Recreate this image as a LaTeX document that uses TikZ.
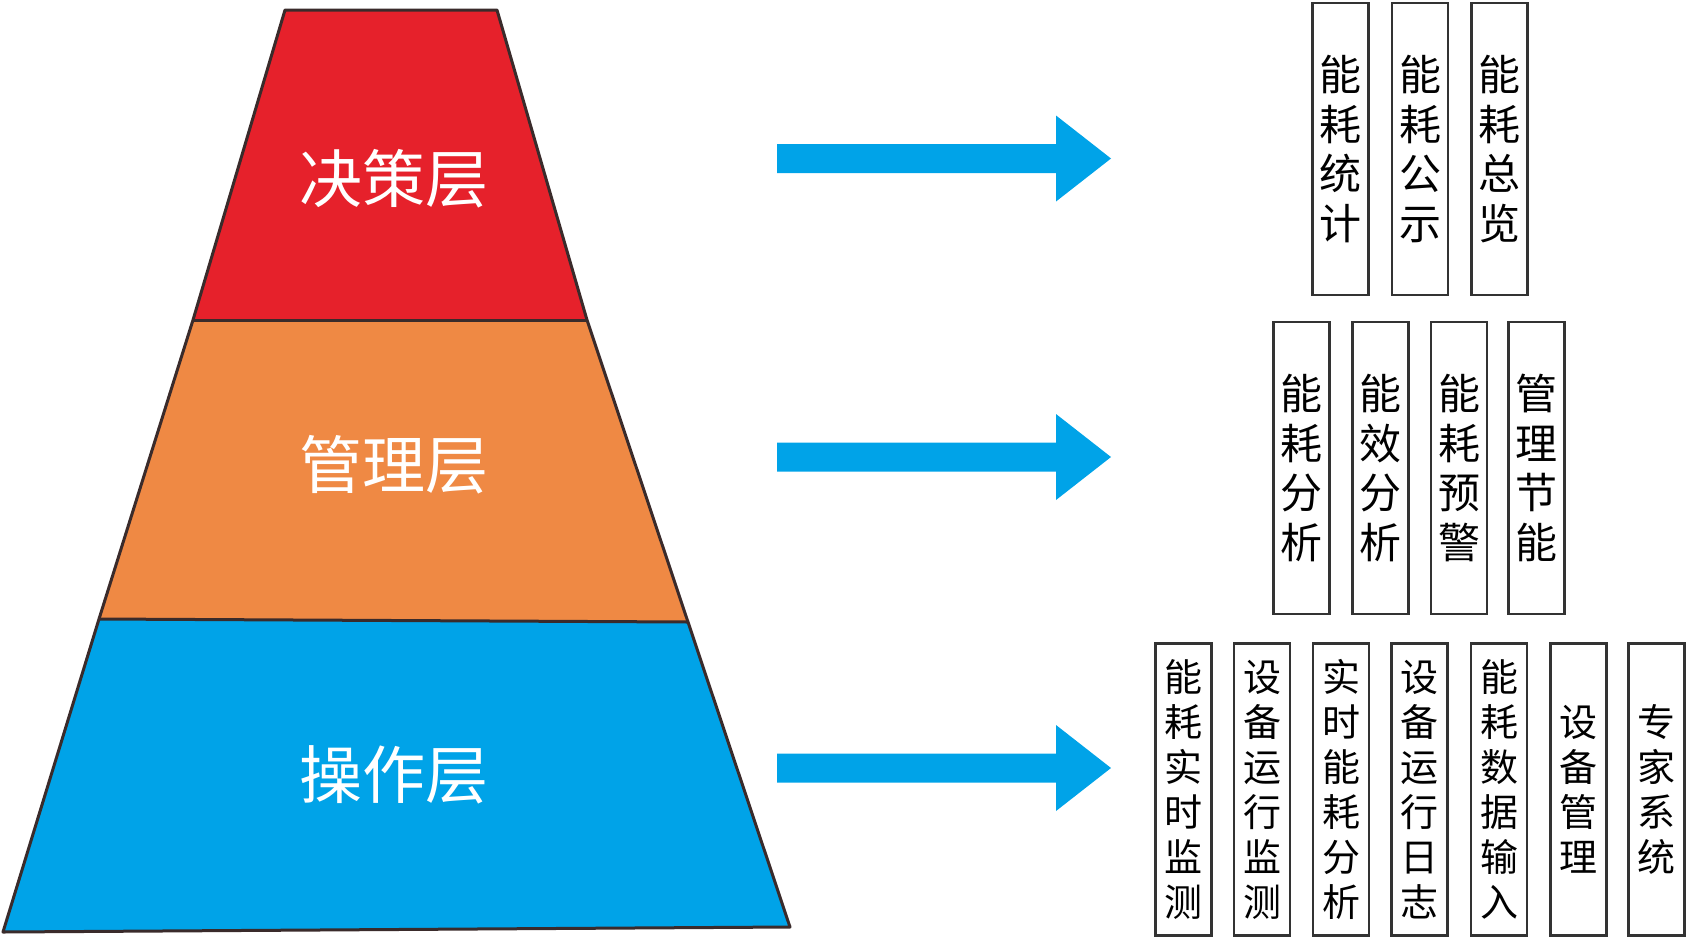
\documentclass[tikz,border=0pt]{standalone}
\usepackage{fontspec}
\newfontfamily\cjk{Noto Sans CJK SC}
\definecolor{layerred}{HTML}{E6212B}
\definecolor{layerorange}{HTML}{EF8944}
\definecolor{layerblue}{HTML}{00A3E8}
\definecolor{edgedark}{HTML}{3A2B2B}

\newcommand*{\pagew}{1687}
\newcommand*{\pageh}{938}
\newcommand*{\shaft}{14.5}
\newcommand*{\head}{43}

\begin{document}
\begin{tikzpicture}
[
	x=1pt,y=-1pt,
	edge/.style={draw=edgedark,line width=3pt,line join=round},
	layertext/.style={text=white,font={\cjk\fontsize{63}{63}\selectfont}},
	funcbox/.style={draw=black!80,line width=2.5pt,minimum width=56pt,minimum height=292pt,inner sep=0pt,align=center,font={\cjk\fontsize{42}{49.5}\selectfont}},
	smallbox/.style={funcbox,font={\cjk\fontsize{38}{45}\selectfont}}
]
	\useasboundingbox (0,0) rectangle (\pagew,\pageh);

	% layers
	\fill[layerred] (285,10) -- (497,10) -- (587,320) -- (193,320) -- cycle;
	\fill[layerorange] (193,320) -- (587,320) -- (688,622) -- (99,619) -- cycle;
	\fill[layerblue] (99,619) -- (688,622) -- (790,927) -- (3,932) -- cycle;
	\draw[edge] (285,10) -- (497,10) -- (587,320) -- (688,622) -- (790,927)
		-- (3,932) -- (99,619) -- (193,320) -- cycle;
	\draw[edge] (193,320) -- (587,320);
	\draw[edge] (99,619) -- (688,622);

	\node[layertext] (decision) at (394,179) {决策层};
	\node[layertext] (manage) at (394,465) {管理层};
	\node[layertext] (operate) at (394,775) {操作层};

	% arrows
	\foreach \y in {158.5,457,768}
		\fill[layerblue] (777,{\y-\shaft}) -- (1056,{\y-\shaft}) -- (1056,{\y-\head}) -- (1111,\y)
			-- (1056,{\y+\head}) -- (1056,{\y+\shaft}) -- (777,{\y+\shaft}) -- cycle;

	% decision functions
	\node[funcbox] (stat) at (1340.5,149) {能\\耗\\统\\计};
	\node[funcbox] (publish) at (1420,149) {能\\耗\\公\\示};
	\node[funcbox] (overview) at (1499.5,149) {能\\耗\\总\\览};

	% management functions
	\node[funcbox] (consume) at (1301.5,468) {能\\耗\\分\\析};
	\node[funcbox] (efficiency) at (1380.5,468) {能\\效\\分\\析};
	\node[funcbox] (warning) at (1459,468) {能\\耗\\预\\警};
	\node[funcbox] (saving) at (1536.5,468) {管\\理\\节\\能};

	% operation functions
	\node[smallbox] (monitor) at (1183.5,789.5) {能\\耗\\实\\时\\监\\测};
	\node[smallbox] (running) at (1262,789.5) {设\\备\\运\\行\\监\\测};
	\node[smallbox] (realtime) at (1341,789.5) {实\\时\\能\\耗\\分\\析};
	\node[smallbox] (logbook) at (1419.5,789.5) {设\\备\\运\\行\\日\\志};
	\node[smallbox] (input) at (1499,789.5) {能\\耗\\数\\据\\输\\入};
	\node[smallbox] (device) at (1578.5,789.5) {设\\备\\管\\理};
	\node[smallbox] (expert) at (1656.5,789.5) {专\\家\\系\\统};

\end{tikzpicture}
\end{document}
